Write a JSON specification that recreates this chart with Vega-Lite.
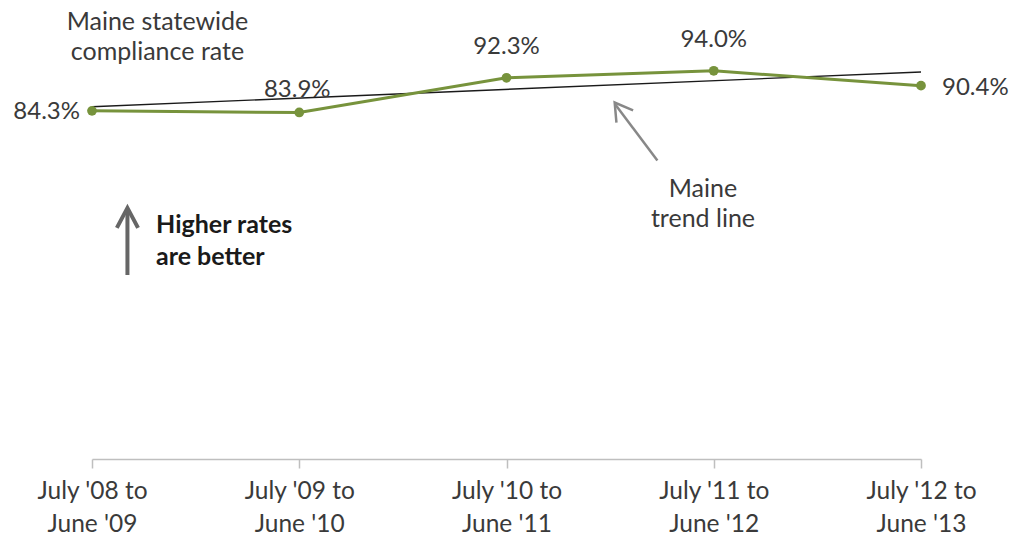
{
  "$schema": "https://vega.github.io/schema/vega-lite/v6.json",
  "width": 829,
  "height": 413,
  "autosize": {"type": "none"},
  "padding": {"left": 92, "top": 46, "right": 95, "bottom": 83},
  "background": "white",
  "config": {"view": {"stroke": null}, "font": "Lato"},
  "datasets": {
    "rates": [
      {"period": "July '08 to|June '09", "rate": 0.843},
      {"period": "July '09 to|June '10", "rate": 0.839},
      {"period": "July '10 to|June '11", "rate": 0.923},
      {"period": "July '11 to|June '12", "rate": 0.94},
      {"period": "July '12 to|June '13", "rate": 0.904}
    ],
    "trend": [
      {"period": "July '08 to|June '09", "trend": 0.853},
      {"period": "July '12 to|June '13", "trend": 0.937}
    ],
    "notes": [
      {"note": "Maine statewide\ncompliance rate", "ax": 0.316, "v": 1.057},
      {"note": "Maine\ntrend line", "ax": 2.948, "v": 0.654}
    ],
    "boldnote": [
      {"note": "Higher rates\nare better", "ax": 0.309, "v": 0.567}
    ],
    "uparrow": [
      {"ax": 0.171, "v": 0.4455, "ax2": 0.171, "v2": 0.603, "tipax": 0.171, "tipv": 0.608}
    ],
    "diagarrow": [
      {"ax": 2.728, "v": 0.7225, "ax2": 2.526, "v2": 0.858, "tipax": 2.522, "tipv": 0.863}
    ]
  },
  "resolve": {"scale": {"x": "independent"}, "axis": {"x": "independent"}},
  "layer": [
    {
      "layer": [
        {
          "data": {"name": "trend"},
          "mark": {"type": "line", "color": "#1a1a1a", "strokeWidth": 1.4},
          "encoding": {
            "x": {"field": "period", "type": "ordinal", "sort": null,
              "scale": {"type": "point", "padding": 0,
                "domain": ["July '08 to|June '09", "July '09 to|June '10", "July '10 to|June '11", "July '11 to|June '12", "July '12 to|June '13"]},
              "axis": {"title": null, "labelExpr": "split(datum.value, '|')", "labelAngle": 0,
                "labelFontSize": 24.5, "labelColor": "#3a3a3a", "labelLineHeight": 33, "labelFont": "Lato",
                "labelPadding": 11, "labelBaseline": "top",
                "domainColor": "#bfbfbf", "tickColor": "#bfbfbf", "tickSize": 9, "domainWidth": 1.5, "tickWidth": 1.5, "grid": false}},
            "y": {"field": "trend", "type": "quantitative", "scale": {"domain": [0, 1]}, "axis": null}
          }
        },
        {
          "data": {"name": "rates"},
          "mark": {"type": "line", "color": "#77933C", "strokeWidth": 3},
          "encoding": {
            "x": {"field": "period", "type": "ordinal", "sort": null},
            "y": {"field": "rate", "type": "quantitative", "scale": {"domain": [0, 1]}, "axis": null}
          }
        },
        {
          "data": {"name": "rates"},
          "mark": {"type": "point", "filled": true, "color": "#77933C", "size": 95, "opacity": 1},
          "encoding": {
            "x": {"field": "period", "type": "ordinal", "sort": null},
            "y": {"field": "rate", "type": "quantitative", "scale": {"domain": [0, 1]}, "axis": null}
          }
        },
        {
          "data": {"name": "rates"},
          "transform": [{"filter": {"field": "period", "equal": "July '08 to|June '09"}}],
          "mark": {"type": "text", "align": "right", "baseline": "middle", "dx": -12, "dy": 1, "fontSize": 24, "color": "#3a3a3a"},
          "encoding": {
            "x": {"field": "period", "type": "ordinal", "sort": null},
            "y": {"field": "rate", "type": "quantitative", "scale": {"domain": [0, 1]}, "axis": null},
            "text": {"field": "rate", "type": "quantitative", "format": ".1%"}
          }
        },
        {
          "data": {"name": "rates"},
          "transform": [{"filter": {"field": "period", "equal": "July '09 to|June '10"}}],
          "mark": {"type": "text", "align": "center", "baseline": "alphabetic", "dx": -2, "dy": -15, "fontSize": 24, "color": "#3a3a3a"},
          "encoding": {
            "x": {"field": "period", "type": "ordinal", "sort": null},
            "y": {"field": "rate", "type": "quantitative", "scale": {"domain": [0, 1]}, "axis": null},
            "text": {"field": "rate", "type": "quantitative", "format": ".1%"}
          }
        },
        {
          "data": {"name": "rates"},
          "transform": [{"filter": {"field": "period", "oneOf": ["July '10 to|June '11", "July '11 to|June '12"]}}],
          "mark": {"type": "text", "align": "center", "baseline": "alphabetic", "dx": 0, "dy": -24, "fontSize": 24, "color": "#3a3a3a"},
          "encoding": {
            "x": {"field": "period", "type": "ordinal", "sort": null},
            "y": {"field": "rate", "type": "quantitative", "scale": {"domain": [0, 1]}, "axis": null},
            "text": {"field": "rate", "type": "quantitative", "format": ".1%"}
          }
        },
        {
          "data": {"name": "rates"},
          "transform": [{"filter": {"field": "period", "equal": "July '12 to|June '13"}}],
          "mark": {"type": "text", "align": "left", "baseline": "middle", "dx": 21, "dy": 2, "fontSize": 24, "color": "#3a3a3a"},
          "encoding": {
            "x": {"field": "period", "type": "ordinal", "sort": null},
            "y": {"field": "rate", "type": "quantitative", "scale": {"domain": [0, 1]}, "axis": null},
            "text": {"field": "rate", "type": "quantitative", "format": ".1%"}
          }
        }
      ]
    },
    {
      "layer": [
        {
          "data": {"name": "notes"},
          "mark": {"type": "text", "align": "center", "baseline": "middle", "lineBreak": "\n", "lineHeight": 30, "fontSize": 25, "color": "#3a3a3a"},
          "encoding": {
            "x": {"field": "ax", "type": "quantitative", "scale": {"domain": [0, 4], "nice": false, "zero": false}, "axis": null},
            "y": {"field": "v", "type": "quantitative", "scale": {"domain": [0, 1]}, "axis": null},
            "text": {"field": "note"}
          }
        },
        {
          "data": {"name": "boldnote"},
          "mark": {"type": "text", "align": "left", "baseline": "middle", "lineBreak": "\n", "lineHeight": 32, "fontSize": 25, "fontWeight": "bold", "color": "#1a1a1a"},
          "encoding": {
            "x": {"field": "ax", "type": "quantitative"},
            "y": {"field": "v", "type": "quantitative"},
            "text": {"field": "note"}
          }
        },
        {
          "data": {"name": "uparrow"},
          "mark": {"type": "rule", "color": "#666666", "strokeWidth": 4},
          "encoding": {
            "x": {"field": "ax", "type": "quantitative"},
            "y": {"field": "v", "type": "quantitative"},
            "x2": {"field": "ax2"},
            "y2": {"field": "v2"}
          }
        },
        {
          "data": {"name": "uparrow"},
          "mark": {"type": "point", "filled": false, "shape": "M-0.53,1L0,0L0.53,1", "size": 1600, "stroke": "#666666", "strokeWidth": 4, "strokeJoin": "miter", "opacity": 1},
          "encoding": {
            "x": {"field": "tipax", "type": "quantitative"},
            "y": {"field": "tipv", "type": "quantitative"}
          }
        },
        {
          "data": {"name": "diagarrow"},
          "mark": {"type": "rule", "color": "#888888", "strokeWidth": 2.5},
          "encoding": {
            "x": {"field": "ax", "type": "quantitative"},
            "y": {"field": "v", "type": "quantitative"},
            "x2": {"field": "ax2"},
            "y2": {"field": "v2"}
          }
        },
        {
          "data": {"name": "diagarrow"},
          "mark": {"type": "point", "filled": false, "shape": "M-0.6,1L0,0L0.6,1", "size": 1180, "angle": -36, "stroke": "#888888", "strokeWidth": 2.5, "strokeJoin": "miter", "opacity": 1},
          "encoding": {
            "x": {"field": "tipax", "type": "quantitative"},
            "y": {"field": "tipv", "type": "quantitative"}
          }
        }
      ]
    }
  ]
}
